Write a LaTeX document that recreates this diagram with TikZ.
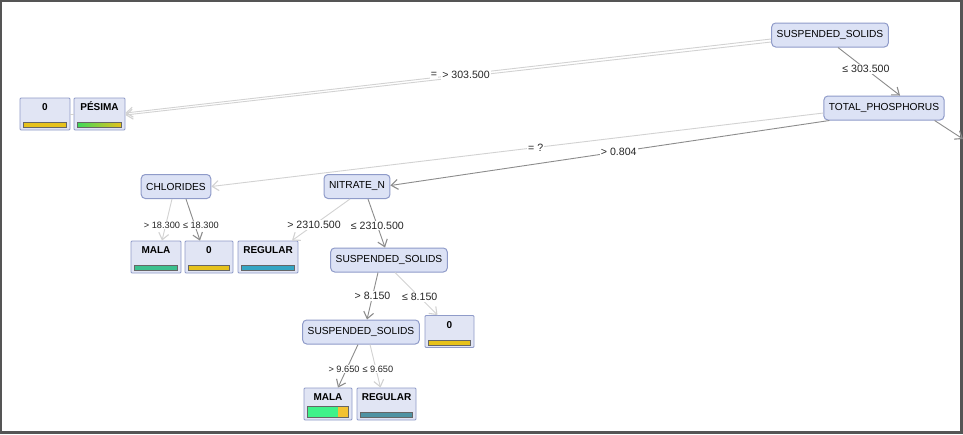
\documentclass[tikz,border=0pt]{standalone}
\usepackage{fontspec}
\setmainfont{Liberation Sans}
\usetikzlibrary{arrows.meta,calc}
\definecolor{nfill}{HTML}{DCE2F5}
\definecolor{nborder}{HTML}{8F9BC9}
\definecolor{lfill}{HTML}{E1E5F4}
\definecolor{edgecol}{HTML}{8C8C8C}
\definecolor{lightedge}{HTML}{D2D2D2}
\definecolor{frame}{HTML}{555555}
\definecolor{cyel}{HTML}{E6C21C}
\definecolor{cgreen}{HTML}{3FD95A}
\definecolor{cteal}{HTML}{3CC08E}
\definecolor{cblue}{HTML}{35A6C4}
\definecolor{cmint}{HTML}{3EF28A}
\definecolor{corange}{HTML}{F2C232}
\definecolor{cslate}{HTML}{4F93A3}
\tikzset{
  attr/.style={draw=nborder, fill=nfill, rounded corners=4pt, line width=1pt,
    inner xsep=5pt, minimum height=24pt, font=\fontsize{10.2}{12}\selectfont},
  leaf/.style={draw=nborder, fill=lfill, rounded corners=1pt, line width=0.8pt,
    minimum width=#1, text height=7.5pt, text depth=14.5pt, inner ysep=5pt,
    font=\fontsize{10}{12}\selectfont\bfseries},
  edge/.style={draw=edgecol, line width=0.9pt, -{Straight Barb[length=6.5pt,width=10pt,line width=1.1pt]}},
  ledge/.style={draw=lightedge, line width=0.9pt, -{Straight Barb[length=6.5pt,width=10pt,line width=1.1pt]}},
  lbl/.style={fill=white, inner sep=1pt, font=\fontsize{10.6}{12}\selectfont, text=black!85},
  slbl/.style={lbl, inner sep=0.3pt, font=\fontsize{9.2}{11}\selectfont},
}
\newcommand\leafbar[2]{%
  \draw[draw=black!60, line width=0.6pt, #2] ($(#1.south west)+(4,-3)$) rectangle ($(#1.south east)+(-4,-8)$);}
\begin{document}
\begin{tikzpicture}[x=1pt,y=-1pt]
\useasboundingbox (0,0) rectangle (963,434);
\fill[white] (0,0) rectangle (963,434);
\draw[frame, line width=2.5pt] (1.2,1) -- (1.2,432.5) -- (961.5,432.5) -- (961.5,1) -- cycle;

% attribute nodes
\node[attr] (ss1) at (830,35) {SUSPENDED\_SOLIDS};
\node[attr] (tp) at (884,108) {TOTAL\_PHOSPHORUS};
\node[attr] (cl) at (176,186.5) {CHLORIDES};
\node[attr] (nn) at (357,186.5) {NITRATE\_N};
\node[attr] (ss2) at (389,260) {SUSPENDED\_SOLIDS};
\node[attr] (ss3) at (361,332) {SUSPENDED\_SOLIDS};

% leaves
\node[leaf=50pt] (z1) at (45,114) {0};
\node[leaf=51pt] (pes) at (99.5,114) {PÉSIMA};
\node[leaf=50pt] (mala1) at (156,257) {MALA};
\node[leaf=48pt] (z2) at (209,257) {0};
\node[leaf=60pt] (reg1) at (268,257) {REGULAR};
\node[leaf=49pt] (z3) at (449.5,331.5) {0};
\node[leaf=48pt] (mala2) at (328,404) {MALA};
\node[leaf=59pt] (reg2) at (386.5,404) {REGULAR};

\leafbar{z1}{fill=cyel}
\leafbar{pes}{left color=cgreen, right color=cyel}
\leafbar{mala1}{fill=cteal}
\leafbar{z2}{fill=cyel}
\leafbar{reg1}{fill=cblue}
\leafbar{z3}{fill=cyel}
\leafbar{reg2}{fill=cslate}
\fill[cmint] ($(mala2.south west)+(4,-3)$) rectangle ($(mala2.south west)+(34,-14)$);
\fill[corange] ($(mala2.south west)+(34,-3)$) rectangle ($(mala2.south east)+(-4,-14)$);
\draw[black!60, line width=0.8pt] ($(mala2.south west)+(4,-3)$) rectangle ($(mala2.south east)+(-4,-14)$);

% coordinates
\coordinate (offr) at (963,139);
\draw[lightedge, line width=0.8pt] (z1.east) -- (pes.west);

% edges
\draw[ledge] ([yshift=-4pt]ss1.west) -- ([yshift=1pt]pes.east);
\draw[ledge] ([yshift=-7pt]ss1.west) -- ([yshift=-1pt]pes.east);
\node[lbl] at (434,75) {=};
\node[lbl] at (466,75) {> 303.500};

\draw[edge] ([xshift=8pt]ss1.south) -- ([xshift=16pt]tp.north) node[lbl, pos=0.45] {≤ 303.500};

\draw[ledge] ([yshift=-5pt]tp.west) -- (cl.east) node[lbl, pos=0.47] {= ?};
\draw[edge] ([xshift=6pt]tp.south west) -- ([yshift=1pt]nn.east) node[lbl, pos=0.48] {> 0.804};
\draw[edge] ([xshift=-10pt]tp.south east) -- (offr);

\draw[ledge] ([xshift=-4pt]cl.south) -- ([xshift=6pt]mala1.north);
\draw[edge] ([xshift=10pt]cl.south) -- ([xshift=-9pt]z2.north);
\node[slbl, anchor=east] at (180.5,225) {> 18.300};
\node[slbl, anchor=west] at (182.5,225) {≤ 18.300};

\draw[ledge] ([xshift=-7pt]nn.south) -- ([xshift=24pt]reg1.north) node[lbl, pos=0.62] {> 2310.500};
\draw[edge] ([xshift=11pt]nn.south) -- ([xshift=-4pt]ss2.north) node[lbl, pos=0.55] {≤ 2310.500};

\draw[edge] ([xshift=-11pt]ss2.south) -- ([xshift=6pt]ss3.north) node[lbl, pos=0.5] {> 8.150};
\draw[ledge] ([xshift=6pt]ss2.south) -- ([xshift=-12pt]z3.north) node[lbl, pos=0.58] {≤ 8.150};

\draw[edge] ([xshift=-3pt]ss3.south) -- ([xshift=10pt]mala2.north);
\draw[ledge] ([xshift=9pt]ss3.south) -- ([xshift=-6pt]reg2.north);
\node[slbl, anchor=east] at (360,369) {> 9.650};
\node[slbl, anchor=west] at (362,369) {≤ 9.650};
\end{tikzpicture}
\end{document}
